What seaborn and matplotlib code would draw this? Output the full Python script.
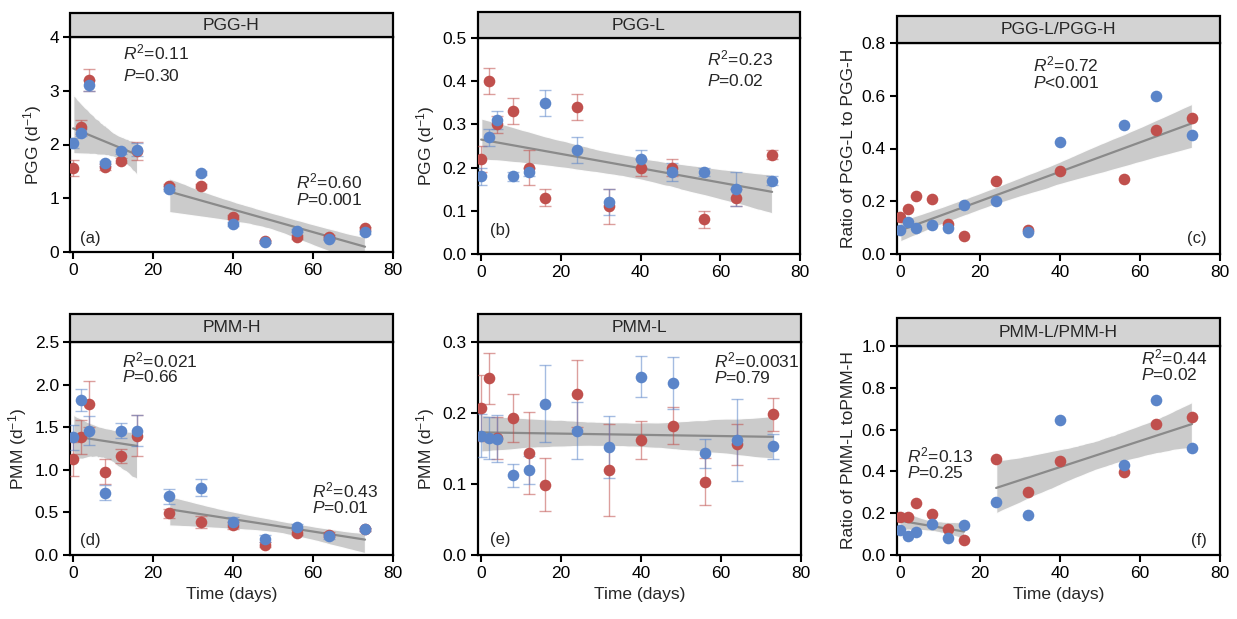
import numpy as np
import pandas as pd
import matplotlib
matplotlib.use('Agg')
import matplotlib.pyplot as plt
from matplotlib.patches import Rectangle
import seaborn as sns

sns.set_style('ticks')
plt.rcParams['font.family'] = ['Liberation Sans', 'DejaVu Sans']
plt.rcParams['mathtext.fontset'] = 'custom'
plt.rcParams['mathtext.rm'] = 'Liberation Sans'
plt.rcParams['mathtext.it'] = 'Liberation Sans:italic'

days = [0, 2, 4, 8, 12, 16, 24, 32, 40, 48, 56, 64, 73]
nan = np.nan

# (a) PGG-H
pggh_red = [1.56, 2.33, 3.20, 1.58, 1.70, 1.88, 1.22, 1.23, 0.65, 0.20, 0.28, 0.28, 0.44]
pggh_red_err = [0.15, 0.13, 0.20, 0.06, 0.04, 0.17, 0.05, 0.04, 0.04, 0.03, 0.03, 0.03, 0.03]
pggh_blue = [2.03, 2.22, 3.10, 1.65, 1.87, 1.90, 1.18, 1.47, 0.52, 0.18, 0.40, 0.25, 0.37]
pggh_blue_err = [0.10, 0.06, 0.10, 0.05, 0.04, 0.12, 0.04, 0.04, 0.04, 0.02, 0.03, 0.03, 0.03]

# (b) PGG-L
pggl_red = [0.22, 0.40, 0.30, 0.33, 0.20, 0.13, 0.34, 0.11, 0.20, 0.20, 0.08, 0.13, 0.23]
pggl_red_err = [0.03, 0.03, 0.02, 0.03, 0.04, 0.02, 0.03, 0.04, 0.02, 0.02, 0.02, 0.02, 0.01]
pggl_blue = [0.18, 0.27, 0.31, 0.18, 0.19, 0.35, 0.24, 0.12, 0.22, 0.19, 0.19, 0.15, 0.17]
pggl_blue_err = [0.02, 0.02, 0.02, 0.01, 0.01, 0.03, 0.03, 0.03, 0.02, 0.02, 0.01, 0.04, 0.01]

# (c) PGG-L/PGG-H
rpgg_red = [0.14, 0.17, 0.22, 0.21, 0.115, 0.07, 0.275, 0.09, 0.315, nan, 0.285, 0.47, 0.515]
rpgg_blue = [0.09, 0.12, 0.10, 0.11, 0.10, 0.185, 0.20, 0.085, 0.425, nan, 0.49, 0.60, 0.45]

# (d) PMM-H
pmmh_red = [1.13, 1.38, 1.77, 0.98, 1.16, 1.40, 0.49, 0.39, 0.35, 0.12, 0.26, 0.24, 0.30]
pmmh_red_err = [0.20, 0.20, 0.27, 0.15, 0.08, 0.24, 0.05, 0.07, 0.04, 0.03, 0.03, 0.03, 0.02]
pmmh_blue = [1.38, 1.82, 1.46, 0.73, 1.46, 1.46, 0.69, 0.79, 0.39, 0.19, 0.33, 0.22, 0.30]
pmmh_blue_err = [0.15, 0.13, 0.17, 0.09, 0.09, 0.18, 0.09, 0.10, 0.06, 0.04, 0.03, 0.03, 0.02]

# (e) PMM-L
pmml_red = [0.207, 0.249, 0.165, 0.193, 0.144, 0.099, 0.227, 0.120, 0.162, 0.182, 0.103, 0.156, 0.198]
pmml_red_err = [0.047, 0.036, 0.030, 0.034, 0.058, 0.037, 0.047, 0.065, 0.027, 0.026, 0.033, 0.029, 0.023]
pmml_blue = [0.168, 0.165, 0.164, 0.112, 0.120, 0.213, 0.175, 0.152, 0.251, 0.242, 0.143, 0.162, 0.153]
pmml_blue_err = [0.030, 0.030, 0.033, 0.016, 0.020, 0.054, 0.040, 0.044, 0.029, 0.037, 0.020, 0.058, 0.018]

# (f) PMM-L/PMM-H
rpmm_red = [0.18, 0.18, 0.25, 0.195, 0.125, 0.07, 0.46, 0.30, 0.45, nan, 0.395, 0.625, 0.66]
rpmm_blue = [0.12, 0.09, 0.11, 0.15, 0.08, 0.145, 0.255, 0.19, 0.645, nan, 0.43, 0.74, 0.51]

RED = '#C0504D'
BLUE = '#5B85C9'
W, H = 1237, 619

panels = [
    dict(title='PGG-H', ylabel='PGG (d$^{-1}$)', red=pggh_red, blue=pggh_blue,
         rerr=pggh_red_err, berr=pggh_blue_err, ylim=(0, 4), yticks=[0, 1, 2, 3, 4],
         fmt='{:.0f}', box=(70, 393, 37, 252, 13), segs=[(0, 16), (24, 73)],
         stats=[('0.11', '=0.30', 0.165, 0.93, 0.82), ('0.60', '=0.001', 0.70, 0.33, 0.24)],
         lab=('(a)', 0.03, 0.065, 'left')),
    dict(title='PGG-L', ylabel='PGG (d$^{-1}$)', red=pggl_red, blue=pggl_blue,
         rerr=pggl_red_err, berr=pggl_blue_err, ylim=(0, 0.5), yticks=[0, 0.1, 0.2, 0.3, 0.4, 0.5],
         fmt='{:.1f}', box=(478, 800, 38, 254, 12), segs=[(0, 73)],
         stats=[('0.23', '=0.02', 0.71, 0.905, 0.80)],
         lab=('(b)', 0.037, 0.11, 'left')),
    dict(title='PGG-L/PGG-H', ylabel='Ratio of PGG-L to PGG-H', red=rpgg_red, blue=rpgg_blue,
         rerr=None, berr=None, ylim=(0, 0.785), yticks=[0, 0.2, 0.4, 0.6, 0.8],
         fmt='{:.1f}', box=(897, 1220, 43, 254, 16), segs=[(0, 73)],
         stats=[('0.72', '<0.001', 0.42, 0.90, 0.81)],
         lab=('(c)', 0.96, 0.075, 'right')),
    dict(title='PMM-H', ylabel='PMM (d$^{-1}$)', red=pmmh_red, blue=pmmh_blue,
         rerr=pmmh_red_err, berr=pmmh_blue_err, ylim=(0, 2.5), yticks=[0, 0.5, 1.0, 1.5, 2.0, 2.5],
         fmt='{:.1f}', box=(70, 393, 342, 555, 314), segs=[(0, 16), (24, 73)],
         stats=[('0.021', '=0.66', 0.16, 0.915, 0.835), ('0.43', '=0.01', 0.75, 0.305, 0.22)],
         lab=('(d)', 0.03, 0.07, 'left')),
    dict(title='PMM-L', ylabel='PMM (d$^{-1}$)', red=pmml_red, blue=pmml_blue,
         rerr=pmml_red_err, berr=pmml_blue_err, ylim=(0, 0.3), yticks=[0, 0.1, 0.2, 0.3],
         fmt='{:.1f}', box=(478, 801, 342, 555, 314), segs=[(0, 73)],
         stats=[('0.0031', '=0.79', 0.73, 0.915, 0.83)],
         lab=('(e)', 0.037, 0.075, 'left')),
    dict(title='PMM-L/PMM-H', ylabel='Ratio of PMM-L toPMM-H', red=rpmm_red, blue=rpmm_blue,
         rerr=None, berr=None, ylim=(0, 0.98), yticks=[0, 0.2, 0.4, 0.6, 0.8, 1.0],
         fmt='{:.1f}', box=(897, 1220, 346, 555, 318), segs=[(0, 16), (24, 73)],
         stats=[('0.44', '=0.02', 0.755, 0.945, 0.86), ('0.13', '=0.25', 0.03, 0.478, 0.39)],
         lab=('(f)', 0.96, 0.07, 'right')),
]

fig = plt.figure(figsize=(W / 100, H / 100), dpi=100)

for i, p in enumerate(panels):
    l, r, t, b, st = p['box']
    ax = fig.add_axes([l / W, 1 - b / H, (r - l) / W, (b - t) / H])

    df = pd.DataFrame({'day': days * 2, 'val': list(p['red']) + list(p['blue'])}).dropna()
    for lo, hi in p['segs']:
        seg = df[(df.day >= lo) & (df.day <= hi)]
        sns.regplot(data=seg, x='day', y='val', ax=ax, scatter=False, ci=95, seed=1,
                    color='#8a8a8a', line_kws=dict(lw=1.6, zorder=3))
        band = ax.collections[-1]
        band.set_facecolor('#c6c6c6')
        band.set_alpha(0.9)
        band.set_zorder(1)

    for vals, err, c in [(p['red'], p['rerr'], RED), (p['blue'], p['berr'], BLUE)]:
        if err is not None:
            ax.errorbar(days, vals, yerr=err, fmt='none', ecolor=c, elinewidth=1.0,
                        capsize=4, capthick=1.0, alpha=0.55, zorder=4)
        sns.scatterplot(x=days, y=vals, ax=ax, color=c, s=70, linewidth=0, zorder=5)

    ax.set_xlim(-0.8, 80)
    ax.set_ylim(*p['ylim'])
    ax.set_xticks([0, 20, 40, 60, 80])
    ax.set_yticks(p['yticks'])
    ax.set_yticklabels([p['fmt'].format(v) for v in p['yticks']])
    ax.tick_params(direction='out', length=5, width=1.5, labelsize=12.5, color='black',
                   labelcolor='black', pad=3)
    for s in ax.spines.values():
        s.set_visible(True)
        s.set_linewidth(1.6)
        s.set_color('black')
    ax.set_ylabel(p['ylabel'], fontsize=12.5, labelpad=4)
    if i >= 3:
        ax.set_xlabel('Time (days)', fontsize=12.5, labelpad=4)
    else:
        ax.set_xlabel('')

    # strip header
    sh = (t - st) / (b - t)
    ax.add_patch(Rectangle((0, 1), 1, sh, transform=ax.transAxes, clip_on=False,
                           facecolor='#d3d3d3', edgecolor='black', linewidth=1.6, zorder=10))
    ax.text(0.5, 1 + sh / 2, p['title'], transform=ax.transAxes, ha='center', va='center',
            fontsize=12.5, zorder=11)

    for r2, pv, xf, y1, y2 in p['stats']:
        ax.text(xf, y1, r'$R^{2}$=' + r2, transform=ax.transAxes, ha='left', va='center',
                fontsize=12.5)
        ax.text(xf, y2, r'$P$' + pv, transform=ax.transAxes, ha='left', va='center',
                fontsize=12.5)

    txt, xf, yf, ha = p['lab']
    ax.text(xf, yf, txt, transform=ax.transAxes, ha=ha, va='center', fontsize=12)

fig.savefig('out.png', dpi=100)
